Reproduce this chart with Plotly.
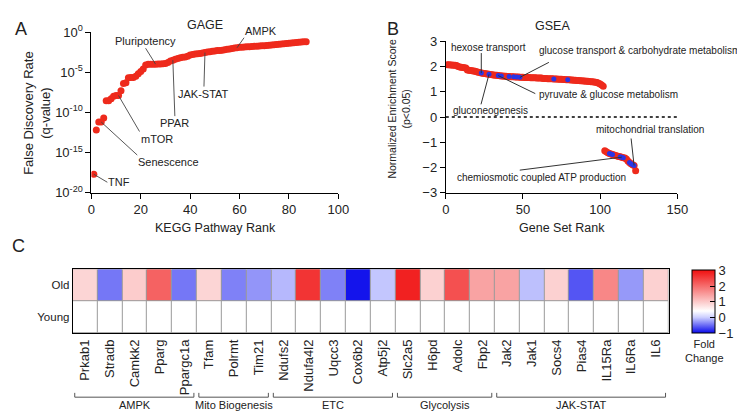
import math
import plotly.graph_objects as go

# ---------------- data ----------------
gage_rank = list(range(1, 88))
gage_q = [2.0e-18, 6.3e-13, 6.3e-12, 6.3e-12, 2.0e-11, 2.8e-9, 2.8e-9, 5.0e-9, 1.0e-8, 1.26e-8,
          1.26e-8, 5.0e-8, 4.0e-7, 5.0e-7, 2.0e-6, 2.2e-6, 2.2e-6, 3.2e-6, 6.3e-6, 1.26e-5,
          2.5e-5, 7.9e-5, 1.0e-4, 1.0e-4, 1.0e-4, 1.0e-4, 1.05e-4, 1.07e-4, 1.12e-4, 1.26e-4,
          1.6e-4, 2.5e-4, 3.2e-4, 4.0e-4, 5.0e-4, 6.3e-4, 7.1e-4, 7.9e-4, 1.0e-3, 1.4e-3,
          1.6e-3, 1.8e-3, 2.0e-3, 2.2e-3, 2.5e-3, 2.8e-3, 3.2e-3, 3.5e-3, 4.0e-3, 4.5e-3,
          5.0e-3, 5.2e-3, 5.6e-3, 6.3e-3, 7.1e-3, 7.9e-3, 8.9e-3, 1.0e-2, 1.12e-2, 1.26e-2,
          1.32e-2, 1.38e-2, 1.45e-2, 1.51e-2, 1.58e-2, 1.66e-2, 1.74e-2, 1.82e-2, 1.91e-2, 2.0e-2,
          2.14e-2, 2.29e-2, 2.45e-2, 2.63e-2, 2.82e-2, 3.02e-2, 3.16e-2, 3.39e-2, 3.63e-2, 3.98e-2,
          4.27e-2, 4.57e-2, 4.9e-2, 5.25e-2, 5.62e-2, 6.03e-2, 6.31e-2]

gsea_rank = list(range(1, 124))
gsea_nes = [2.07, 2.07, 2.06, 2.06, 2.05, 2.05, 2.04,
            2.00, 1.98, 1.97, 1.96, 1.95, 1.94,
            1.86, 1.85, 1.84, 1.83, 1.82, 1.81,
            1.79, 1.77, 1.76, 1.74,
            1.73, 1.72, 1.71, 1.70, 1.69, 1.68, 1.67,
            1.66, 1.65, 1.65, 1.64, 1.63,
            1.62, 1.62, 1.61, 1.61, 1.60, 1.60, 1.59, 1.59, 1.59, 1.58, 1.58, 1.58,
            1.57, 1.57, 1.57, 1.56, 1.56, 1.56, 1.56, 1.55, 1.55, 1.55, 1.55, 1.54, 1.54, 1.54, 1.54,
            1.53, 1.53, 1.53, 1.52, 1.52, 1.52, 1.52, 1.51, 1.51, 1.51, 1.50, 1.50, 1.50, 1.49,
            1.49, 1.48, 1.48, 1.48, 1.47, 1.47, 1.46, 1.46, 1.45, 1.45, 1.44, 1.44, 1.43, 1.43, 1.42, 1.42,
            1.41, 1.40, 1.40, 1.39, 1.38, 1.37, 1.34, 1.31, 1.27, 1.22,
            -1.34, -1.38, -1.42, -1.45, -1.47, -1.48, -1.50, -1.52, -1.54, -1.56, -1.57,
            -1.59, -1.61, -1.62, -1.66, -1.74, -1.80, -1.85, -1.89, -1.92, -2.13]
gsea_highlight = [23, 28, 34, 36, 41, 44, 46, 48, 70, 79,
                  106, 107, 108, 113, 114, 115, 119, 120, 121, 122]

genes = ["Prkab1", "Stradb", "Camkk2", "Pparg", "Ppargc1a", "Tfam", "Polrmt", "Tim21",
         "Ndufs2", "Ndufa4l2", "Uqcc3", "Cox6b2", "Atp5j2", "Slc2a5", "H6pd", "Adolc",
         "Fbp2", "Jak2", "Jak1", "Socs4", "Pias4", "IL15Ra", "IL6Ra", "IL6"]
old_fc = [0.85, -0.45, 0.95, 2.1, -0.45, 0.85, -0.4, -0.3, -0.12, 2.6, -0.4, -0.95,
          -0.05, 2.8, 0.9, 2.3, 1.4, 1.4, -0.08, 0.9, -0.62, 1.7, -0.28, 0.9]
young_fc = [0.4] * 24
rows = ["Young", "Old"]
groups = [("AMPK", 0, 4), ("Mito Biogenesis", 5, 7), ("ETC", 8, 12),
          ("Glycolysis", 13, 16), ("JAK-STAT", 17, 23)]

# ---------------- styling ----------------
W, H = 745, 413
FONT = "Liberation Sans, Arial, sans-serif"
RED = "#ee2a1c"
BLUE = "#2a35e6"
LINE = "#333333"


def px(x):
    return x / W


def py(y):
    return 1 - y / H


fig = go.Figure()

fig.add_trace(go.Scatter(x=gage_rank, y=gage_q, mode="markers",
                         marker=dict(color=RED, size=7, line=dict(width=0)),
                         xaxis="x", yaxis="y", showlegend=False, hoverinfo="skip"))

fig.add_trace(go.Scatter(x=gsea_rank, y=gsea_nes, mode="markers",
                         marker=dict(color=RED, size=7, line=dict(width=0)),
                         xaxis="x2", yaxis="y2", showlegend=False, hoverinfo="skip"))
hl_x = [r for r in gsea_rank if r in gsea_highlight]
hl_y = [gsea_nes[r - 1] for r in hl_x]
fig.add_trace(go.Scatter(x=hl_x, y=hl_y, mode="markers",
                         marker=dict(color=BLUE, size=5, line=dict(width=0)),
                         xaxis="x2", yaxis="y2", showlegend=False, hoverinfo="skip"))

fig.add_trace(go.Heatmap(
    z=[young_fc, old_fc], x=genes, y=rows, xaxis="x3", yaxis="y3",
    zmin=-1, zmax=3, xgap=1, ygap=1,
    colorscale=[[0, "rgb(10,10,235)"], [0.25, "rgb(205,208,255)"],
                [0.35, "rgb(255,255,255)"], [1, "rgb(240,15,15)"]],
    hoverinfo="skip",
    colorbar=dict(x=px(694), xanchor="left", y=py(297), yanchor="middle",
                  len=66 / H, lenmode="fraction", thickness=23,
                  outlinewidth=1, outlinecolor="black",
                  tickvals=[-1, 0, 1, 2, 3], ticks="inside", ticklen=5,
                  tickcolor="black", tickfont=dict(size=13, family=FONT, color="#222"),
                  xpad=0, ypad=0)))

axis_common = dict(showline=True, linecolor="black", linewidth=1, showgrid=False,
                   zeroline=False, ticks="outside", ticklen=5, tickcolor="black",
                   tickfont=dict(size=13, family=FONT, color="#222"))

fig.update_layout(
    width=W, height=H, margin=dict(l=0, r=0, t=0, b=0),
    paper_bgcolor="white", plot_bgcolor="white",
    font=dict(family=FONT, color="#222"),
    xaxis=dict(domain=[px(81), px(333)], range=[0, 100], anchor="y",
               tickvals=[0, 20, 40, 60, 80, 100], **axis_common),
    yaxis=dict(domain=[py(183.3), py(15.7)], type="log", range=[-20, 0], anchor="x",
               tickvals=[1e-20, 1e-15, 1e-10, 1e-5, 1],
               ticktext=["10<sup>-20</sup>", "10<sup>-15</sup>", "10<sup>-10</sup>",
                         "10<sup>-5</sup>", "10<sup>0</sup>"], **axis_common),
    xaxis2=dict(domain=[px(442.7), px(679)], range=[0, 150], anchor="y2",
                tickvals=[0, 50, 100, 150], **axis_common),
    yaxis2=dict(domain=[py(183.3), py(25.3)], range=[-3, 3], anchor="x2",
                tickvals=[-3, -2, -1, 0, 1, 2, 3], **axis_common),
    xaxis3=dict(domain=[px(62), px(670)], anchor="y3", showline=True, mirror=True,
                linecolor="black", linewidth=1, showgrid=False, zeroline=False,
                ticks="", tickangle=-90,
                tickfont=dict(size=13, family=FONT, color="#222")),
    yaxis3=dict(domain=[py(330), py(263)], anchor="x3", showline=True, mirror=True,
                linecolor="black", linewidth=1, showgrid=False, zeroline=False,
                ticks="", tickfont=dict(size=11.5, family=FONT, color="#222")),
)

shapes = []
# grey background behind heatmap (cell separators)
shapes.append(dict(type="rect", xref="x3 domain", yref="y3 domain", x0=0, x1=1, y0=0, y1=1,
                   fillcolor="#9a9a9a", line=dict(width=0), layer="below"))
# zero line in GSEA
shapes.append(dict(type="line", xref="x2", yref="y2", x0=0, x1=150, y0=0, y1=0,
                   line=dict(color="black", width=1.3, dash="dot")))

# GSEA leader lines: (rank, dx, dy_up) relative to the data point
gsea_leaders = [(23, 0, 20), (48, 29, 15), (34, 37, -18), (28, -8, -30),
                (122, -3, 27), (114, -102, -13)]
for r, dx, dy in gsea_leaders:
    shapes.append(dict(type="line", xref="x2", yref="y2", xsizemode="pixel", ysizemode="pixel",
                       xanchor=r, yanchor=gsea_nes[r - 1], x0=0, y0=0, x1=dx, y1=dy,
                       line=dict(color=LINE, width=1)))

# group brackets
yb, yt = py(396.5), py(392)
for name, a, b in groups:
    x0, x1 = a - 0.42, b + 0.38
    for (xa, ya, xb, yb2) in [(x0, yt, x0, yb), (x0, yb, x1, yb), (x1, yb, x1, yt)]:
        shapes.append(dict(type="line", xref="x3", yref="paper", x0=xa, x1=xb, y0=ya, y1=yb2,
                           line=dict(color="#555", width=1)))
fig.update_layout(shapes=shapes)

ann = []


def text(x, y, s, size, xanchor="center", angle=0, color="#222"):
    ann.append(dict(x=px(x), y=py(y), xref="paper", yref="paper", text=s, showarrow=False,
                    xanchor=xanchor, yanchor="middle", textangle=angle,
                    font=dict(size=size, family=FONT, color=color)))


# GAGE labels with leader lines: (label, rank, dx, dy_down, xanchor, yanchor)
gage_labels = [("Pluripotency", 26, -10, -16, "center", "bottom"),
               ("AMPK", 59, 7, -10, "left", "bottom"),
               ("JAK-STAT", 46, -1, 34, "center", "top"),
               ("PPAR", 33, 2, 56, "center", "top"),
               ("mTOR", 11, 21, 36, "left", "top"),
               ("Senescence", 4, 36, 33, "left", "top"),
               ("TNF", 1, 13.5, 8, "left", "middle")]
for label, r, dx, dy, xa, ya in gage_labels:
    ann.append(dict(x=r, y=math.log10(gage_q[r - 1]), xref="x", yref="y",
                    ax=dx, ay=dy, axref="pixel", ayref="pixel", text=label,
                    xanchor=xa, yanchor=ya, borderpad=0,
                    font=dict(size=11, family=FONT, color="#222"),
                    showarrow=True, arrowhead=0, arrowwidth=0.9,
                    arrowcolor="#444", standoff=0, startstandoff=0))

text(9, 12, "A", 18)
text(389, 12, "B", 18)
text(7, 239, "C", 18)
text(197, 8, "GAGE", 12.5)
text(552, 9, "GSEA", 12.5)
text(208, 220, "KEGG Pathway Rank", 12.5)
text(561, 220, "Gene Set Rank", 12.5)
text(25.5, 100, "False Discovery Rate<br>(q-value)", 13, angle=-90)
text(395.5, 96, "Normalized Enrichment Score<br>(p&lt;0.05)", 10.5, angle=-90)
text(707, 348, "Fold<br>Change", 11)

# GSEA labels
text(446, 32, "hexose transport", 10, xanchor="left")
text(536, 35, "glucose transport &amp; carbohydrate metabolism", 10, xanchor="left")
text(536, 81, "pyruvate &amp; glucose metabolism", 10, xanchor="left")
text(448, 97, "gluconeogenesis", 10, xanchor="left")
text(594, 117, "mitochondrial translation", 10, xanchor="left")
text(452, 167, "chemiosmotic coupled ATP production", 10, xanchor="left")

fig.update_layout(annotations=ann)

# group labels (positioned on heatmap category axis)
for name, a, b in groups:
    fig.add_annotation(x=(a + b) / 2, y=py(405), xref="x3", yref="paper", text=name,
                       showarrow=False, xanchor="center", yanchor="middle",
                       font=dict(size=11, family=FONT, color="#222"))

fig.write_html("out.html")
